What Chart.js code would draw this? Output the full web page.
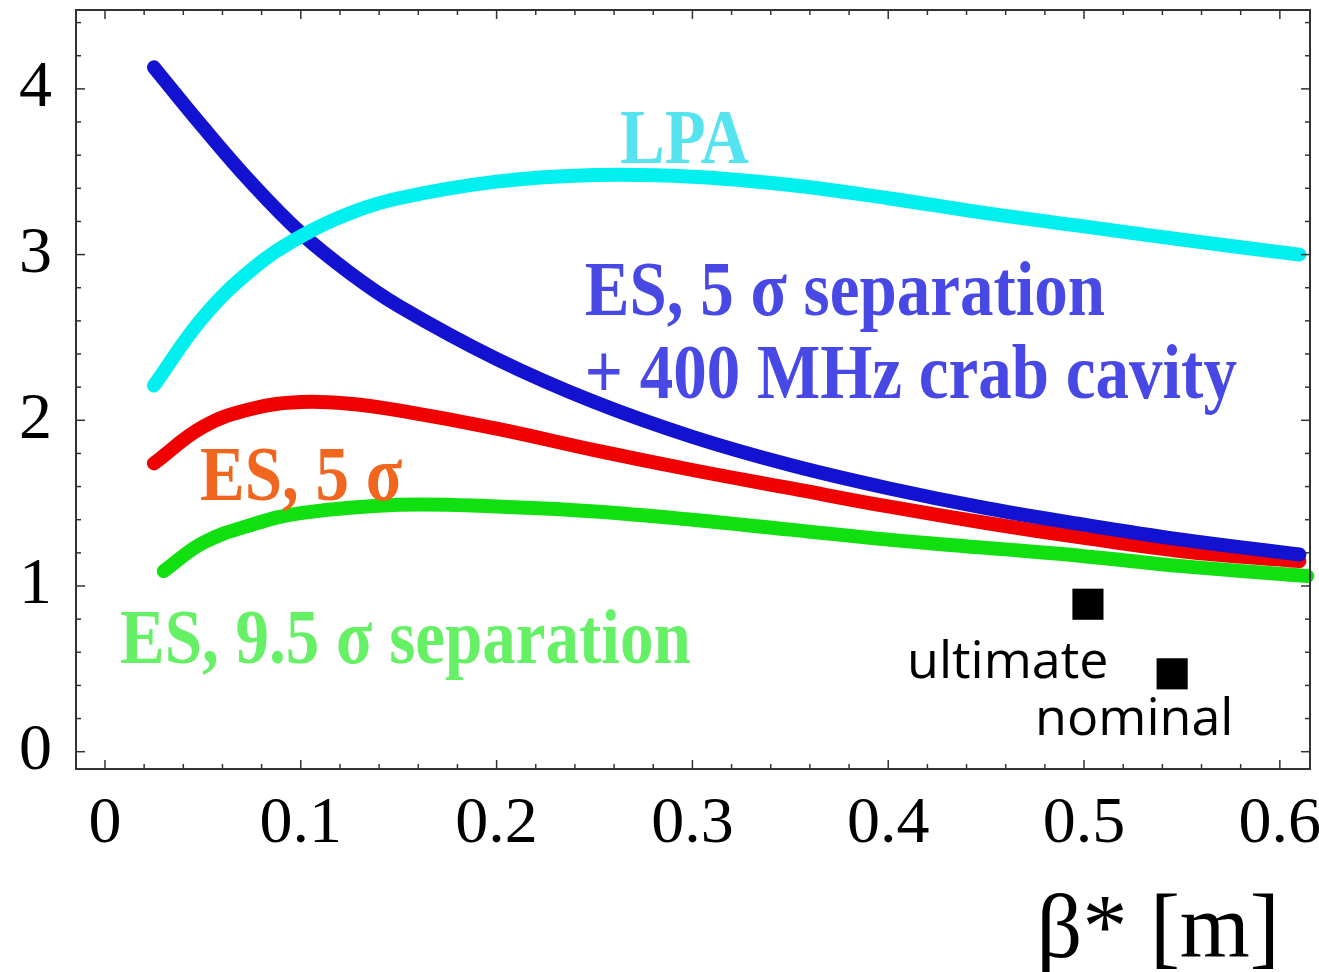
<!DOCTYPE html>
<html>
<head>
<meta charset="utf-8">
<script src="https://cdn.jsdelivr.net/npm/chart.js@4.4.1/dist/chart.umd.min.js"></script>
<style>
    html, body { margin: 0; padding: 0; background: #fff; }
    canvas { display: block; }
</style>
</head>
<body>
<canvas id="luminosityChart" width="1319" height="972"></canvas>
<script>
// values
const betaLPA = [0.025, 0.05, 0.075, 0.1, 0.125, 0.15, 0.2, 0.25, 0.3, 0.35, 0.4, 0.45, 0.5, 0.55, 0.61];
const gainLPA = [2.21, 2.62, 2.91, 3.11, 3.25, 3.34, 3.44, 3.48, 3.47, 3.42, 3.34, 3.25, 3.17, 3.09, 3.00];

const betaCrab = [0.025, 0.05, 0.075, 0.1, 0.125, 0.15, 0.2, 0.25, 0.3, 0.35, 0.4, 0.45, 0.5, 0.55, 0.61];
const gainCrab = [4.13, 3.77, 3.43, 3.13, 2.89, 2.69, 2.37, 2.11, 1.90, 1.73, 1.59, 1.47, 1.37, 1.28, 1.19];

const betaES5 = [0.025, 0.05, 0.075, 0.1, 0.125, 0.15, 0.2, 0.25, 0.3, 0.35, 0.4, 0.45, 0.5, 0.55, 0.61];
const gainES5 = [1.74, 1.96, 2.07, 2.11, 2.10, 2.06, 1.95, 1.82, 1.70, 1.59, 1.48, 1.38, 1.29, 1.21, 1.15];

const betaES95 = [0.03, 0.05, 0.075, 0.1, 0.15, 0.2, 0.25, 0.3, 0.35, 0.4, 0.45, 0.5, 0.55, 0.614];
const gainES95 = [1.09, 1.26, 1.37, 1.44, 1.49, 1.48, 1.45, 1.40, 1.34, 1.28, 1.23, 1.18, 1.12, 1.06];

const pointNames = ['ultimate', 'nominal'];
const pointBeta = [0.502, 0.545];
const pointGain = [0.89, 0.47];

const xTicks = [0, 0.1, 0.2, 0.3, 0.4, 0.5, 0.6];
const yTicks = [0, 1, 2, 3, 4];
const xMinorStep = 0.02;
const yMinorStep = 0.2;

// curve labels, anchored in data units (left end, baseline)
const curveLabels = [
    { text: 'LPA', x: 0.263, y: 3.553, color: '#55e3f0' },
    { text: 'ES, 5 σ separation', x: 0.245, y: 2.635, color: '#4848e4' },
    { text: '+ 400 MHz crab cavity', x: 0.245, y: 2.135, color: '#4848e4' },
    { text: 'ES, 5 σ', x: 0.0485, y: 1.519, color: '#f0661e' },
    { text: 'ES, 9.5 σ separation', x: 0.0077, y: 0.535, color: '#66f066' }
];
const pointLabelX = [0.4096, 0.475];
const pointLabelY = [0.445, 0.101];

function toPoints(xs, ys) {
    return xs.map(function(x, i) {
        return { x: x, y: ys[i] };
    });
}

function lineDataset(label, xs, ys, color) {
    return {
        label: label,
        data: toPoints(xs, ys),
        borderColor: color,
        backgroundColor: color,
        borderWidth: 14,
        borderCapStyle: 'round',
        borderJoinStyle: 'round',
        tension: 0.4,
        pointRadius: 0,
        fill: false,
        clip: false
    };
}

function drawStretched(ctx, text, x, y, sy) {
    ctx.save();
    ctx.translate(x, y);
    ctx.scale(1, sy);
    ctx.fillText(text, 0, 0);
    ctx.restore();
}

function strokeLine(ctx, x1, y1, x2, y2) {
    ctx.beginPath();
    ctx.moveTo(x1, y1);
    ctx.lineTo(x2, y2);
    ctx.stroke();
}

const decorPlugin = {
    id: 'decor',
    afterDatasetsDraw(chart) {
        const ctx = chart.ctx;
        const xs = chart.scales.x, ys = chart.scales.y;

        ctx.save();
        ctx.textAlign = 'left';
        ctx.textBaseline = 'alphabetic';
        ctx.font = 'bold 67px "Liberation Serif"';
        curveLabels.forEach(function(lab) {
            ctx.fillStyle = lab.color;
            drawStretched(ctx, lab.text, xs.getPixelForValue(lab.x), ys.getPixelForValue(lab.y), 1.18);
        });

        // names of the two operating points
        ctx.fillStyle = '#000';
        ctx.font = '52px "Open Sans"';
        pointNames.forEach(function(name, i) {
            ctx.fillText(name, xs.getPixelForValue(pointLabelX[i]), ys.getPixelForValue(pointLabelY[i]));
        });
        ctx.restore();
    },
    afterDraw(chart) {
        const ctx = chart.ctx;
        const area = chart.chartArea;
        const xs = chart.scales.x, ys = chart.scales.y;

        ctx.save();
        ctx.strokeStyle = '#333';
        ctx.lineWidth = 1.5;

        for (let i = 0; i * xMinorStep <= xs.max + 1e-9; i++) {
            const px = xs.getPixelForValue(i * xMinorStep);
            const len = i % 5 === 0 ? 9 : 5;
            strokeLine(ctx, px, area.bottom, px, area.bottom - len);
            strokeLine(ctx, px, area.top, px, area.top + len);
        }
        for (let i = 0; i * yMinorStep <= ys.max + 1e-9; i++) {
            const py = ys.getPixelForValue(i * yMinorStep);
            const len = i % 5 === 0 ? 9 : 5;
            strokeLine(ctx, area.left, py, area.left + len, py);
            strokeLine(ctx, area.right, py, area.right - len, py);
        }

        ctx.lineWidth = 2;
        ctx.strokeRect(area.left, area.top, area.right - area.left, area.bottom - area.top);

        // axis title
        ctx.fillStyle = '#000';
        ctx.font = '90px "Liberation Serif"';
        ctx.textAlign = 'right';
        ctx.textBaseline = 'alphabetic';
        ctx.fillText('β* [m]', xs.getPixelForValue(0.6), xs.bottom - 15);
        ctx.restore();
    }
};

const chartCanvas = document.querySelector('#luminosityChart').getContext('2d');

const luminosityChart = new Chart(chartCanvas, {
    type: 'line',
    data: {
        datasets: [
            lineDataset('LPA', betaLPA, gainLPA, '#00f0f0'),
            lineDataset('ES, 5 sigma separation + 400 MHz crab cavity', betaCrab, gainCrab, '#1212d0'),
            lineDataset('ES, 5 sigma', betaES5, gainES5, '#f00000'),
            lineDataset('ES, 9.5 sigma separation', betaES95, gainES95, '#10e010'),
            {
                type: 'scatter',
                label: 'operating points',
                data: toPoints(pointBeta, pointGain),
                pointStyle: 'rect',
                pointRadius: 22,
                backgroundColor: '#000',
                borderColor: '#000',
                borderWidth: 0,
                showLine: false
            }
        ]
    },
    options: {
        responsive: false,
        animation: false,
        devicePixelRatio: 1,
        layout: {
            autoPadding: false,
            padding: { top: 10, right: 9, left: 0, bottom: 0 }
        },
        plugins: {
            legend: { display: false },
            tooltip: { enabled: false }
        },
        scales: {
            x: {
                type: 'linear',
                min: -0.0148,
                max: 0.6154,
                afterFit: function(scale) {
                    scale.height = 203;
                    scale.paddingLeft = 0;
                    scale.paddingRight = 0;
                },
                afterBuildTicks: function(scale) {
                    scale.ticks = xTicks.map(v => ({ value: v }));
                },
                ticks: {
                    padding: 16,
                    color: '#000',
                    maxRotation: 0,
                    autoSkip: false,
                    font: { family: '"Liberation Serif"', size: 66 },
                    callback: v => String(v)
                },
                grid: { display: false, drawTicks: false },
                border: { display: false }
            },
            y: {
                type: 'linear',
                min: -0.1044,
                max: 4.476,
                afterFit: function(scale) {
                    scale.width = 76;
                    scale.paddingTop = 0;
                    scale.paddingBottom = 0;
                },
                afterBuildTicks: function(scale) {
                    scale.ticks = yTicks.map(v => ({ value: v }));
                },
                ticks: {
                    padding: 24,
                    color: '#000',
                    autoSkip: false,
                    font: { family: '"Liberation Serif"', size: 66 },
                    callback: v => String(v)
                },
                grid: { display: false, drawTicks: false },
                border: { display: false }
            }
        }
    },
    plugins: [decorPlugin]
});
</script>
</body>
</html>
